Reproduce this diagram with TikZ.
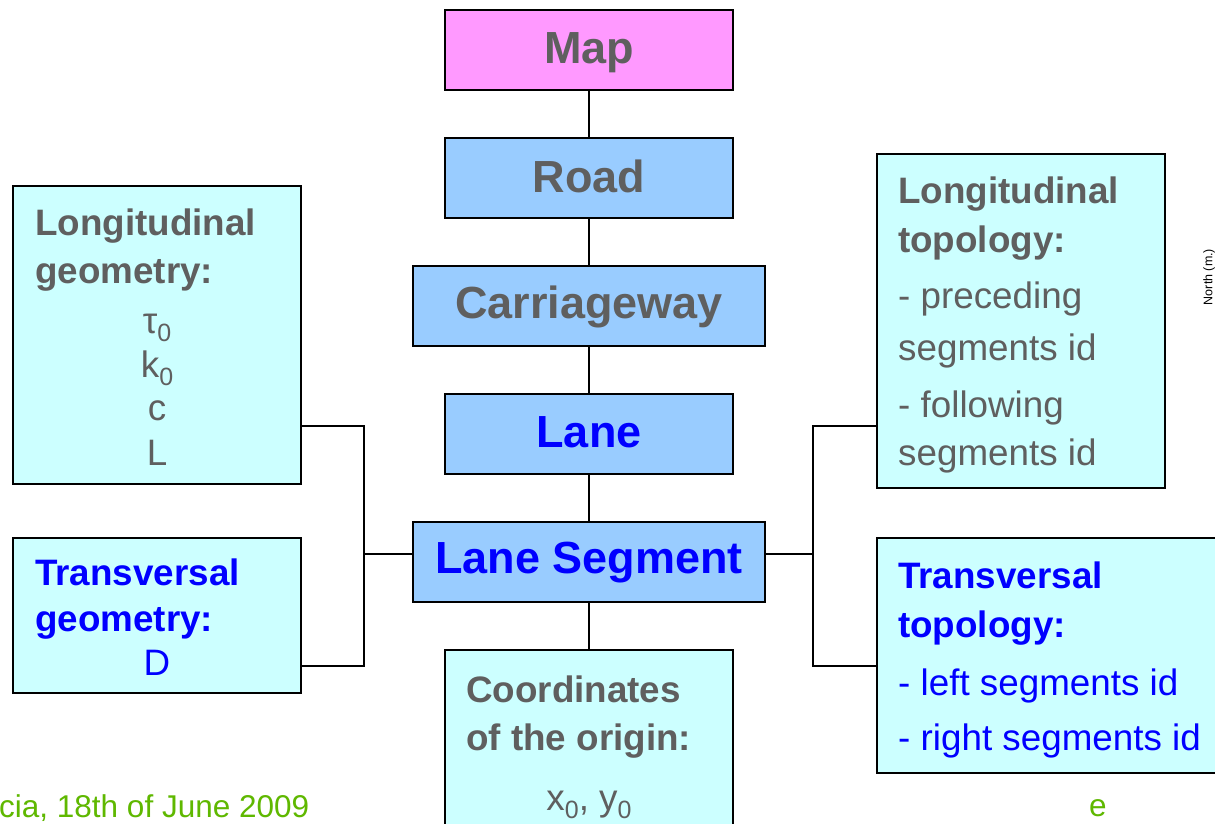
\documentclass[tikz,border=0pt]{standalone}
\usepackage{fontspec}
\setmainfont{Liberation Sans}
\usetikzlibrary{calc}

\definecolor{mappink}{HTML}{FF99FF}
\definecolor{levelblue}{HTML}{99CCFF}
\definecolor{infocyan}{HTML}{CCFFFF}
\definecolor{textgray}{HTML}{5F5F5F}
\definecolor{textblue}{HTML}{0000FF}
\definecolor{footgreen}{HTML}{5FB800}

% lowered small zero used as subscript
\newcommand\szero{\raisebox{-0.24em}{\fontsize{25}{25}\selectfont 0}}

\tikzset{
  box/.style={draw=black, line width=1.6pt, inner sep=0pt, outer sep=0pt, anchor=north west},
  levelbox/.style={box, fill=levelblue, minimum height=80pt},
  infobox/.style={box, fill=infocyan},
  big/.style={font=\fontsize{45}{50}\selectfont\bfseries, inner sep=0pt, anchor=base},
  bigray/.style={big, text=textgray},
  bigblue/.style={big, text=textblue},
  small/.style={font=\fontsize{36.8}{44}\selectfont, inner sep=0pt, anchor=base west},
  hdgray/.style={small, font=\fontsize{36.8}{44}\selectfont\bfseries, text=textgray},
  hdblue/.style={small, font=\fontsize{36.8}{44}\selectfont\bfseries, text=textblue},
  itgray/.style={small, text=textgray},
  itblue/.style={small, text=textblue},
  sym/.style={itgray, anchor=base},
  conn/.style={draw=black, line width=1.3pt},
  trunk/.style={draw=black, line width=2.6pt},
  foot/.style={font=\fontsize{31.5}{36}\selectfont, text=footgreen, inner sep=0pt, anchor=base west},
}

\begin{document}
\begin{tikzpicture}[x=1pt, y=-1pt]
\useasboundingbox[fill=white] (0,0) rectangle (1215,824);

% footer remnants
\node[foot] (date) at (-1,817) {cia, 18th of June 2009};
\node[foot] (tail) at (1089,816) {e};
\node[font=\fontsize{12.5}{14}\selectfont, rotate=90, inner sep=0pt] (north) at (1209,277) {North (m.)};

% hierarchy column
\node[box, fill=mappink, minimum width=288pt, minimum height=80pt] (map) at (445,10) {};
\node[levelbox, minimum width=288pt] (road) at (445,138) {};
\node[levelbox, minimum width=352pt] (carr) at (413,266) {};
\node[levelbox, minimum width=288pt] (lane) at (445,394) {};
\node[levelbox, minimum width=352pt] (seg) at (413,522) {};
\node[infobox, minimum width=288pt, minimum height=210pt] (coord) at (445,650) {};

\node[bigray] (map-t) at (589,63.5) {Map};
\node[bigray] (road-t) at (589,192) {Road};
\node[bigray] (carr-t) at (589,318) {Carriageway};
\node[bigblue] (lane-t) at (589,447) {Lane};
\node[bigblue] (seg-t) at (589,573) {Lane Segment};

\draw[conn] (map.south) -- (road.north);
\draw[conn] (road.south) -- (carr.north);
\draw[conn] (carr.south) -- (lane.north);
\draw[conn] (lane.south) -- (seg.north);
\draw[conn] (seg.south) -- (coord.north);

% origin coordinates
\node[hdgray] (coord-a) at (466,702) {Coordinates};
\node[hdgray] (coord-b) at (466,750) {of the origin:};
\node[sym] (coord-c) at (589,810) {x\szero, y\szero};

% geometry boxes
\node[infobox, minimum width=288pt, minimum height=298pt] (lgeom) at (13,186) {};
\node[hdgray] (lgeom-a) at (35,235) {Longitudinal};
\node[hdgray] (lgeom-b) at (35,283) {geometry:};
\node[sym] (lgeom-c) at (157,333) {τ\szero};
\node[sym] (lgeom-d) at (157,377) {k\szero};
\node[sym] (lgeom-e) at (157,420) {c};
\node[sym] (lgeom-f) at (157,465) {L};

\node[infobox, minimum width=288pt, minimum height=155pt] (tgeom) at (13,538) {};
\node[hdblue] (tgeom-a) at (35,585) {Transversal};
\node[hdblue] (tgeom-b) at (35,631) {geometry:};
\node[sym, text=textblue] (tgeom-c) at (157,675) {D};

% topology boxes
\node[infobox, minimum width=288pt, minimum height=334pt] (ltopo) at (877,154) {};
\node[hdgray] (ltopo-a) at (898,203) {Longitudinal};
\node[hdgray] (ltopo-b) at (898,252) {topology:};
\node[itgray] (ltopo-c) at (898,308) {- preceding};
\node[itgray] (ltopo-d) at (898,360) {segments id};
\node[itgray] (ltopo-e) at (898,417) {- following};
\node[itgray] (ltopo-f) at (898,465) {segments id};

\node[infobox, minimum width=360pt, minimum height=235pt] (ttopo) at (877,538) {};
\node[hdblue] (ttopo-a) at (898,588) {Transversal};
\node[hdblue] (ttopo-b) at (898,637) {topology:};
\node[itblue] (ttopo-c) at (898,695) {- left segments id};
\node[itblue] (ttopo-d) at (898,750) {- right segments id};

% side connectors
\coordinate (lj) at (364,554);
\coordinate (rj) at (813,554);
\draw[conn] ([yshift=58pt]lgeom.south east) -| (lj) |- ([yshift=27pt]tgeom.south east);
\draw[trunk] (lj) -- (seg.west |- lj);
\draw[conn] ([yshift=62pt]ltopo.south west) -| (rj) |- ([yshift=-128pt]ttopo.north west);
\draw[trunk] (seg.east |- rj) -- (rj);
\end{tikzpicture}
\end{document}
